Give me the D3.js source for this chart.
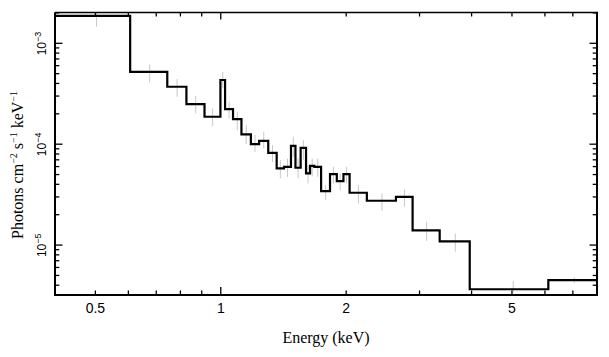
<!DOCTYPE html>
<html><head><meta charset="utf-8">
<script src="https://cdn.jsdelivr.net/npm/d3@7"></script>
<style>
html,body{margin:0;padding:0;background:#fff;}
svg{display:block;}
</style></head>
<body>
<svg id="chart" width="609" height="357"></svg>
<script>
// Bin edges (keV)
const binEdges = [0.4, 0.606, 0.744, 0.827, 0.914, 0.998, 1.024, 1.070, 1.121, 1.181, 1.236,
  1.300, 1.362, 1.418, 1.474, 1.511, 1.555, 1.602, 1.638, 1.677, 1.741, 1.829, 1.899,
  1.970, 2.038, 2.242, 2.633, 2.887, 3.353, 3.959, 6.113, 8.0];
// Model step values (photons cm^-2 s^-1 keV^-1)
const modelValues = [1.87e-3, 5.22e-4, 3.71e-4, 2.50e-4, 1.87e-4, 4.33e-4, 2.23e-4, 1.77e-4,
  1.25e-4, 1.00e-4, 1.08e-4, 8.22e-5, 5.75e-5, 5.97e-5, 9.62e-5, 5.84e-5, 9.20e-5, 5.13e-5,
  6.10e-5, 5.97e-5, 3.43e-5, 5.05e-5, 4.30e-5, 5.05e-5, 3.30e-5, 2.75e-5, 3.00e-5, 1.40e-5,
  1.09e-5, 3.65e-6, 4.50e-6];
// Data error bar bounds
const errLo = [1.46e-3, 4.1e-4, 2.95e-4, 2.02e-4, 1.52e-4, 3.58e-4, 1.80e-4, 1.38e-4,
  1.00e-4, 8.4e-5, 9.1e-5, 6.7e-5, 4.58e-5, 4.75e-5, 7.5e-5, 4.58e-5, 7.0e-5, 4.08e-5,
  4.8e-5, 4.75e-5, 2.8e-5, 4.08e-5, 3.5e-5, 4.08e-5, 2.59e-5, 2.19e-5, 2.4e-5, 1.1e-5,
  8.6e-6, 3.4e-6, 4.2e-6];
const errHi = [2.4e-3, 6.2e-4, 4.43e-4, 3.02e-4, 2.26e-4, 5.22e-4, 2.64e-4, 2.09e-4,
  1.55e-4, 1.23e-4, 1.33e-4, 9.8e-5, 6.95e-5, 7.2e-5, 1.19e-4, 7.2e-5, 1.10e-4, 6.2e-5,
  7.2e-5, 7.2e-5, 3.93e-5, 5.97e-5, 5.13e-5, 5.97e-5, 3.93e-5, 3.25e-5, 3.58e-5, 1.7e-5,
  1.3e-5, 4.4e-6, 4.8e-6];
const xTickLabels = [0.5, 1, 2, 5];
const xMinorTicks = [0.4, 0.5, 0.6, 0.7, 0.8, 0.9, 2, 3, 4, 5, 6, 7, 8];
const xMajorTicks = [1];
const yMajorTicks = [1e-5, 1e-4, 1e-3];
const yLabelExp = ["−5", "−4", "−3"];

const svg = d3.select("#chart");
const L = 55, R = 597, T = 12.5, B = 295;
const x = d3.scaleLog().domain([0.4, 8]).range([L, R]);
const y = d3.scaleLog().domain([3.2e-6, 2.02e-3]).range([B, T]);

const yMinor = [];
[-6, -5, -4, -3].forEach(k => { for (let m = 2; m <= 9; m++) { const v = m * Math.pow(10, k); if (v >= 3.2e-6 && v <= 2.02e-3) yMinor.push(v); } });

// error bars
const centers = binEdges.slice(0, -1).map((e, i) => (e + binEdges[i + 1]) / 2);
svg.append("g").selectAll("line").data(centers).join("line")
  .attr("x1", d => x(d)).attr("x2", d => x(d))
  .attr("y1", (d, i) => y(errLo[i])).attr("y2", (d, i) => Math.max(T, y(errHi[i])))
  .attr("stroke", "#c8c8c8").attr("stroke-width", 1);

// step line
const pts = modelValues.map((v, i) => [binEdges[i], v]);
pts.push([binEdges[binEdges.length - 1], modelValues[modelValues.length - 1]]);
const line = d3.line().x(d => x(d[0])).y(d => y(d[1])).curve(d3.curveStepAfter);
svg.append("path").attr("d", line(pts)).attr("fill", "none")
  .attr("stroke", "#000").attr("stroke-width", 2.2).attr("stroke-linejoin", "miter");

// frame
const ax = svg.append("g").attr("stroke", "#000");
ax.append("line").attr("x1", L).attr("x2", R + 1).attr("y1", T).attr("y2", T).attr("stroke-width", 1.3);
ax.append("line").attr("x1", L - 1).attr("x2", R + 1).attr("y1", B).attr("y2", B).attr("stroke-width", 2);
ax.append("line").attr("x1", L).attr("x2", L).attr("y1", T).attr("y2", B + 1).attr("stroke-width", 2);
ax.append("line").attr("x1", R).attr("x2", R).attr("y1", T).attr("y2", B + 1).attr("stroke-width", 2);

// x ticks
const xt = svg.append("g").attr("stroke", "#000").attr("stroke-width", 1.3);
xMinorTicks.forEach(v => {
  xt.append("line").attr("x1", x(v)).attr("x2", x(v)).attr("y1", B).attr("y2", B - 4.5);
  xt.append("line").attr("x1", x(v)).attr("x2", x(v)).attr("y1", T).attr("y2", T + 4);
});
xMajorTicks.forEach(v => {
  xt.append("line").attr("x1", x(v)).attr("x2", x(v)).attr("y1", B).attr("y2", B - 8);
  xt.append("line").attr("x1", x(v)).attr("x2", x(v)).attr("y1", T).attr("y2", T + 7);
});
// y ticks
yMinor.forEach(v => {
  xt.append("line").attr("x1", L).attr("x2", L + 4.3).attr("y1", y(v)).attr("y2", y(v));
  xt.append("line").attr("x1", R).attr("x2", R - 4.3).attr("y1", y(v)).attr("y2", y(v));
});
yMajorTicks.forEach(v => {
  xt.append("line").attr("x1", L).attr("x2", L + 7.5).attr("y1", y(v)).attr("y2", y(v));
  xt.append("line").attr("x1", R).attr("x2", R - 7.5).attr("y1", y(v)).attr("y2", y(v));
});

// x tick labels
svg.append("g").selectAll("text").data(xTickLabels).join("text")
  .attr("x", d => x(d)).attr("y", 313).attr("text-anchor", "middle")
  .attr("font-family", "Liberation Sans, Arial, sans-serif").attr("font-size", 14)
  .text(d => d);

// y tick labels (rotated)
yMajorTicks.forEach((v, i) => {
  const t = svg.append("text")
    .attr("transform", `translate(46,${y(v) + 12}) rotate(-90)`)
    .attr("font-family", "Liberation Sans, Arial, sans-serif").attr("font-size", 12)
    .attr("text-anchor", "start");
  t.append("tspan").text("10");
  t.append("tspan").attr("dy", -5).attr("font-size", 9).text(yLabelExp[i]);
});

// axis titles
svg.append("text").attr("x", 326).attr("y", 343).attr("text-anchor", "middle")
  .attr("font-family", "Liberation Serif, Times New Roman, serif").attr("font-size", 16)
  .text("Energy (keV)");

const yt = svg.append("text")
  .attr("transform", `translate(23,165) rotate(-90)`)
  .attr("text-anchor", "middle")
  .attr("font-family", "Liberation Serif, Times New Roman, serif").attr("font-size", 16);
yt.append("tspan").text("Photons cm");
yt.append("tspan").attr("dy", -6).attr("font-size", 10).text("−2");
yt.append("tspan").attr("dy", 6).text(" s");
yt.append("tspan").attr("dy", -6).attr("font-size", 10).text("−1");
yt.append("tspan").attr("dy", 6).text(" keV");
yt.append("tspan").attr("dy", -6).attr("font-size", 10).text("−1");
</script>
</body></html>
